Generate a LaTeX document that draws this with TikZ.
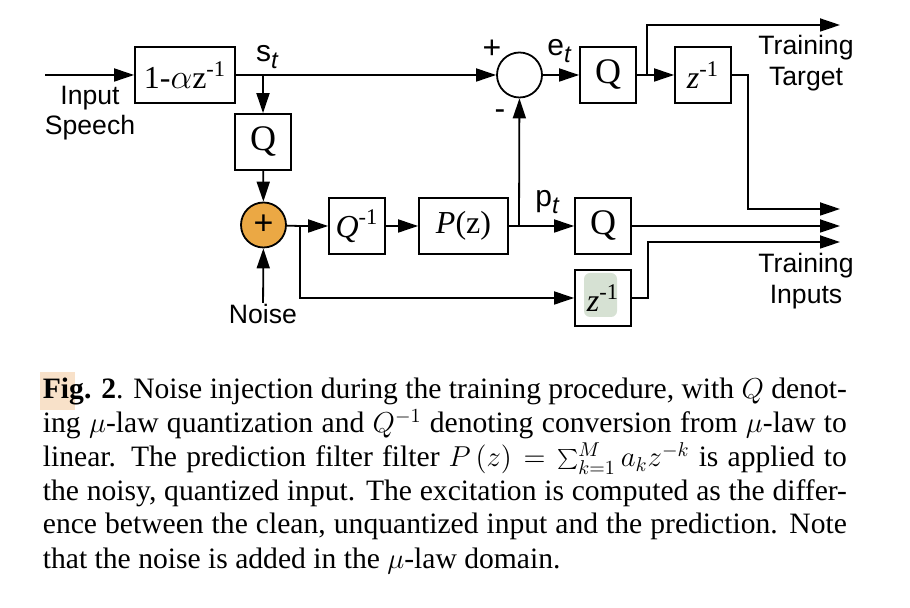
\documentclass[tikz,border=0pt]{standalone}
\usepackage{fontspec}
\setmainfont{Liberation Serif}
\setsansfont{Liberation Sans}
\usetikzlibrary{arrows.meta}

\newcommand{\boxfont}{\rmfamily\fontsize{16}{16}\selectfont}
\newcommand{\labfont}{\sffamily\fontsize{13.3}{15.3}\selectfont}
\newcommand{\sig}[2]{{\sffamily\fontsize{15}{15}\selectfont #1\raisebox{-0.45ex}{\fontsize{12}{12}\selectfont\itshape #2}}}
\newcommand{\capline}[1]{\makebox[402pt][s]{#1}}

\begin{document}
\begin{tikzpicture}[x=0.5pt, y=-0.5pt, >={Triangle[length=10pt,width=6.5pt]},
    every path/.style={line width=0.9pt},
    blk/.style={draw, minimum width=28pt, minimum height=28pt, inner sep=0pt, font=\boxfont},
    qblk/.style={blk, font=\rmfamily\fontsize{18}{18}\selectfont},
    junc/.style={draw, circle, minimum size=22.5pt, inner sep=0pt},
    lab/.style={font=\labfont, align=center, inner sep=0pt},
    capt/.style={anchor=base west, inner sep=0pt, font=\fontsize{14.8}{16.9}\selectfont}]

        \useasboundingbox (0,0) rectangle (910,608);

        % Highlights
        \fill[rounded corners=3pt, fill={rgb,255:red,214;green,225;blue,211}] (584,273) rectangle (617,317);
        \fill[fill={rgb,255:red,248;green,225;blue,201}] (40,372) rectangle (75,410);

        % Nodes
        \node[blk, minimum width=50pt] (pre) at (185,75) {1-$\alpha$z\textsuperscript{-1}};
        \node[qblk] (q1) at (263,142) {Q};
        \node[junc, fill={rgb,255:red,235;green,168;blue,68}, font=\sffamily\fontsize{17}{17}\selectfont] (add) at (263.5,225) {+};
        \node[blk] (qinv) at (357,226) {\textit{Q}\textsuperscript{-1}};
        \node[blk, minimum width=44.5pt] (pz) at (463.5,226) {\textit{P}(z)};
        \node[junc] (sum) at (519.5,75) {};
        \node[qblk] (q2) at (608,75) {Q};
        \node[blk] (zd1) at (703,75) {\textit{z}\textsuperscript{-1}};
        \node[qblk] (q3) at (603,226) {Q};
        \node[blk] (zd2) at (603,298) {\textit{z}\textsuperscript{-1}};

        % Labels
        \node[lab] (speech) at (90,113) {Input\\Speech};
        \node[lab, anchor=north] (noise) at (263,303) {Noise};
        \node[lab] (target) at (806,63) {Training\\Target};
        \node[lab] (inputs) at (806,281) {Training\\Inputs};
        \node (st) at (267,57) {\sig{s}{t}};
        \node (et) at (559,51) {\sig{e}{t}};
        \node (pt) at (547,202) {\sig{p}{t}};
        \node[lab, font=\sffamily\fontsize{16}{16}\selectfont] (plus) at (492,49) {+};
        \node[lab, font=\sffamily\fontsize{16}{16}\selectfont] (minus) at (500,115) {-};

        % Edges
        \coordinate (in) at (45,75);
        \coordinate (b1) at (263,75);
        \coordinate (b2) at (300,226);
        \coordinate (b3) at (519,226);
        \coordinate (b4) at (647,75);
        \coordinate (outA) at (840,25);
        \coordinate (outB) at (840,209);
        \coordinate (outC) at (840,226);
        \coordinate (outD) at (840,242);
        \draw[->] (in) -- (pre);
        \draw[->] (pre) -- (sum);
        \draw[->] (b1) -- (q1);
        \draw[->] (q1) -- (add);
        \draw[->] (noise) -- (add);
        \draw (add) -- (b2);
        \draw[->] (b2) -- (qinv);
        \draw[->] (qinv) -- (pz);
        \draw[->] (pz) -- (q3);
        \draw[->] (b3) -- (sum);
        \draw[->] (b2) |- (zd2);
        \draw[->] (sum) -- (q2);
        \draw[->] (q2) -- (zd1);
        \draw[->] (b4) |- (outA);
        \draw[->] (zd1.east) -- ++(16,0) |- (outB);
        \draw[->] (q3) -- (outC);
        \draw[->] (zd2.east) -- ++(16,0) |- (outD);

        % Caption
        \node[capt] (c1) at (42,399) {\capline{\textbf{Fig. 2}. Noise injection during the training procedure, with $Q$ denot-}};
        \node[capt] (c2) at (42,433) {\capline{ing $\mu$-law quantization and $Q^{-1}$ denoting conversion from $\mu$-law to}};
        \node[capt] (c3) at (42,467) {\capline{linear. The prediction filter filter $P\left(z\right)=\sum_{k=1}^{M}a_kz^{-k}$ is applied to}};
        \node[capt] (c4) at (42,501) {\capline{the noisy, quantized input. The excitation is computed as the differ-}};
        \node[capt] (c5) at (42,534) {\capline{ence between the clean, unquantized input and the prediction. Note}};
        \node[capt] (c6) at (42,568) {that the noise is added in the $\mu$-law domain.};

    \end{tikzpicture}
\end{document}
